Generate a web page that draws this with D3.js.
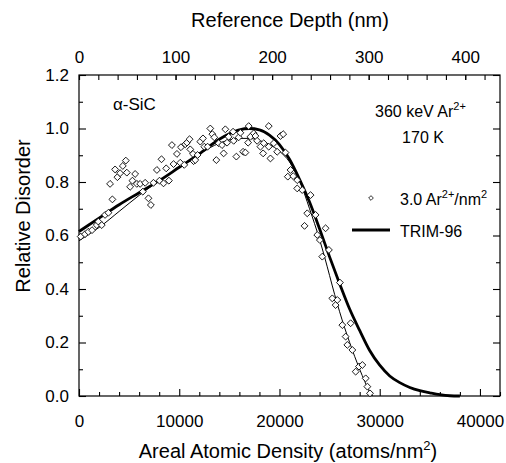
<!DOCTYPE html>
<html lang="en">
<head>
<meta charset="UTF-8">
<title>Relative Disorder</title>
<script src="https://d3js.org/d3.v7.min.js"></script>
<style>
  body { margin: 0; background: #fff; }
  text { font-family: "Liberation Sans", Arial, Helvetica, sans-serif; fill: #000; }
</style>
</head>
<body>
<div id="chart"></div>
<script>
// measured disorder, 3.0 Ar2+/nm2 (x: atoms/nm2, y: relative disorder)
var pointsX = [170,600,930,1300,1770,1930,2270,2600,2930,3330,3100,3600,3830,4100,4370,4670,4770,5100,5330,5600,
  5770,6100,6370,6600,6930,7170,7430,7770,8030,8430,8230,8700,8970,9270,9430,9770,10100,10170,10500,10600,
  10770,11030,11100,11370,11430,11600,11830,12100,12370,12500,12830,13100,13300,13500,13700,13930,14270,14430,14600,14770,
  14930,15370,15430,15700,15930,16100,16370,16600,16870,16930,17100,17430,17600,17770,18100,18370,18430,18930,18930,19100,
  19430,19770,20100,20370,20600,20830,21100,21370,21770,21770,22270,22500,22770,23100,23600,23770,24030,24270,24600,24930,
  25270,25600,25770,26030,26270,26600,26770,27100,27270,27600,27930,28270,28600,28770,29030];
var pointsY = [0.596,0.605,0.614,0.62,0.639,0.652,0.639,0.677,0.685,0.735,0.793,0.847,0.818,0.833,0.86,0.88,0.835,0.782,0.805,0.83,
  0.793,0.793,0.764,0.797,0.739,0.714,0.797,0.845,0.805,0.795,0.885,0.851,0.805,0.938,0.867,0.905,0.872,0.93,0.864,0.941,
  0.947,0.96,0.922,0.905,0.878,0.882,0.901,0.951,0.963,0.932,0.932,1.0,0.979,0.967,0.882,0.945,0.938,0.907,0.997,0.947,
  0.969,0.988,0.954,0.895,0.967,0.984,0.913,0.91,0.947,1.009,0.969,0.982,0.972,0.954,0.932,0.907,0.945,1.009,0.932,0.888,
  0.945,0.913,0.972,0.979,0.91,0.82,0.845,0.822,0.807,0.776,0.77,0.636,0.683,0.751,0.677,0.602,0.583,0.521,0.627,0.546,
  0.365,0.34,0.359,0.424,0.265,0.222,0.191,0.272,0.172,0.091,0.11,0.116,0.066,0.035,0.01];

// fit through the measured points (thin line)
var fitX = [0,1000,2000,4000,6000,8000,10000,12000,14000,15000,16000,17000,18000,19000,20000,21000,22000,23000,24000,24500,
  25000,25500,26000,27000,28000,28500,29000,29300];
var fitY = [0.58,0.605,0.63,0.69,0.75,0.805,0.855,0.905,0.945,0.957,0.963,0.963,0.955,0.94,0.915,0.875,0.805,0.70,0.585,0.52,
  0.45,0.38,0.315,0.2,0.1,0.055,0.015,0.0];

// TRIM-96 profile (thick line)
var trimX = [0,2000,4000,6000,8000,10000,12000,14000,15000,16000,17000,18000,19000,20000,21000,22000,23000,24000,25000,26000,
  27000,28000,29000,30000,31000,32000,33000,34000,35000,36000,37000,38000];
var trimY = [0.615,0.665,0.715,0.76,0.805,0.855,0.905,0.96,0.98,0.995,1.0,0.995,0.975,0.94,0.885,0.81,0.725,0.625,0.52,0.42,
  0.325,0.245,0.17,0.115,0.075,0.05,0.032,0.02,0.012,0.005,0.001,0.0];

var xTicks = [0,10000,20000,30000,40000];
var depthTicks = [0,100,200,300,400];
var yTicks = [0.0,0.2,0.4,0.6,0.8,1.0,1.2];

var W = 506, H = 463;
var m = { left: 79, right: 500, top: 75, bottom: 396 };

var svg = d3.select("#chart").append("svg")
  .attr("width", W).attr("height", H);

var x = d3.scaleLinear().domain([0, 42000]).range([m.left, m.right]);
var xTop = d3.scaleLinear().domain([0, 436]).range([m.left, m.right]);
var y = d3.scaleLinear().domain([0, 1.2]).range([m.bottom, m.top]);

// frame
svg.append("rect")
  .attr("x", m.left).attr("y", m.top)
  .attr("width", m.right - m.left).attr("height", m.bottom - m.top)
  .attr("fill", "none").attr("stroke", "#000").attr("stroke-width", 1.2);

function styleAxis(g) {
  g.select(".domain").remove();
  g.selectAll(".tick line").attr("stroke", "#000").attr("stroke-width", 1.1);
  g.selectAll("text").style("font-size", "17px");
}

// bottom axis: labelled majors and minor ticks
svg.append("g").attr("transform", "translate(0," + m.bottom + ")")
  .call(d3.axisBottom(x).tickValues(d3.range(0, 42001, 2000).filter(function(d) { return d % 10000; }))
    .tickSize(-4).tickFormat(""))
  .call(styleAxis);
svg.append("g").attr("transform", "translate(0," + m.bottom + ")")
  .call(d3.axisBottom(x).tickValues(xTicks).tickSize(-7).tickPadding(19).tickFormat(d3.format("d")))
  .call(styleAxis);

// top axis (reference depth)
svg.append("g").attr("transform", "translate(0," + m.top + ")")
  .call(d3.axisTop(xTop).tickValues(d3.range(0, 437, 20)).tickSize(-5).tickFormat(""))
  .call(styleAxis);
svg.append("g").attr("transform", "translate(0," + m.top + ")")
  .call(d3.axisTop(xTop).tickValues(depthTicks).tickSize(-5).tickPadding(12).tickFormat(d3.format("d")))
  .call(styleAxis);

// left axis
svg.append("g").attr("transform", "translate(" + m.left + ",0)")
  .call(d3.axisLeft(y).tickValues([0.1,0.3,0.5,0.7,0.9,1.1]).tickSize(-4).tickFormat(""))
  .call(styleAxis);
svg.append("g").attr("transform", "translate(" + m.left + ",0)")
  .call(d3.axisLeft(y).tickValues(yTicks).tickSize(-7).tickPadding(10).tickFormat(d3.format(".1f")))
  .call(styleAxis);

// right axis
svg.append("g").attr("transform", "translate(" + m.right + ",0)")
  .call(d3.axisRight(y).tickValues([0.1,0.3,0.5,0.7,0.9,1.1]).tickSize(-4).tickFormat(""))
  .call(styleAxis);
svg.append("g").attr("transform", "translate(" + m.right + ",0)")
  .call(d3.axisRight(y).tickValues(yTicks).tickSize(-7).tickFormat(""))
  .call(styleAxis);

// axis titles
svg.append("text").attr("x", 290).attr("y", 27)
  .attr("text-anchor", "middle").style("font-size", "20px")
  .text("Reference Depth (nm)");

var xt = svg.append("text").attr("x", 288).attr("y", 458)
  .attr("text-anchor", "middle").style("font-size", "20px");
xt.append("tspan").text("Areal Atomic Density (atoms/nm");
xt.append("tspan").attr("dy", -8).style("font-size", "13px").text("2");
xt.append("tspan").attr("dy", 8).text(")");

svg.append("text")
  .attr("transform", "translate(30,216) rotate(-90)")
  .attr("text-anchor", "middle").style("font-size", "20px")
  .text("Relative Disorder");

// lines
var line = d3.line()
  .x(function(d) { return x(d[0]); })
  .y(function(d) { return y(d[1]); })
  .curve(d3.curveMonotoneX);

svg.append("path")
  .datum(d3.zip(trimX, trimY))
  .attr("d", line)
  .attr("fill", "none").attr("stroke", "#000").attr("stroke-width", 2.8);

svg.append("path")
  .datum(d3.zip(fitX, fitY))
  .attr("d", line)
  .attr("fill", "none").attr("stroke", "#000").attr("stroke-width", 1);

// measured points as open diamonds
var diamond = d3.symbol().type(d3.symbolDiamond2).size(30);
svg.append("g")
  .selectAll("path")
  .data(d3.zip(pointsX, pointsY))
  .enter()
  .append("path")
  .attr("d", diamond)
  .attr("transform", function(d) { return "translate(" + x(d[0]) + "," + y(d[1]) + ")"; })
  .attr("fill", "#fff").attr("stroke", "#000").attr("stroke-width", 0.9);

// annotations
svg.append("text").attr("x", 113).attr("y", 110).style("font-size", "17px")
  .text("\u03b1-SiC");

var a1 = svg.append("text").attr("x", 375).attr("y", 117).style("font-size", "16px");
a1.append("tspan").text("360 keV Ar");
a1.append("tspan").attr("dy", -7).style("font-size", "11px").text("2+");

svg.append("text").attr("x", 423).attr("y", 143)
  .attr("text-anchor", "middle").style("font-size", "16px")
  .text("170 K");

// legend
svg.append("path")
  .attr("d", d3.symbol().type(d3.symbolDiamond2).size(14))
  .attr("transform", "translate(371,198)")
  .attr("fill", "#fff").attr("stroke", "#000").attr("stroke-width", 0.8);

var l1 = svg.append("text").attr("x", 400).attr("y", 205).style("font-size", "16px");
l1.append("tspan").text("3.0 Ar");
l1.append("tspan").attr("dy", -7).style("font-size", "11px").text("2+");
l1.append("tspan").attr("dy", 7).text("/nm");
l1.append("tspan").attr("dy", -7).style("font-size", "11px").text("2");

svg.append("line")
  .attr("x1", 352).attr("x2", 390).attr("y1", 230).attr("y2", 230)
  .attr("stroke", "#000").attr("stroke-width", 2.8);

svg.append("text").attr("x", 400).attr("y", 237).style("font-size", "16px")
  .text("TRIM-96");
</script>
</body>
</html>
